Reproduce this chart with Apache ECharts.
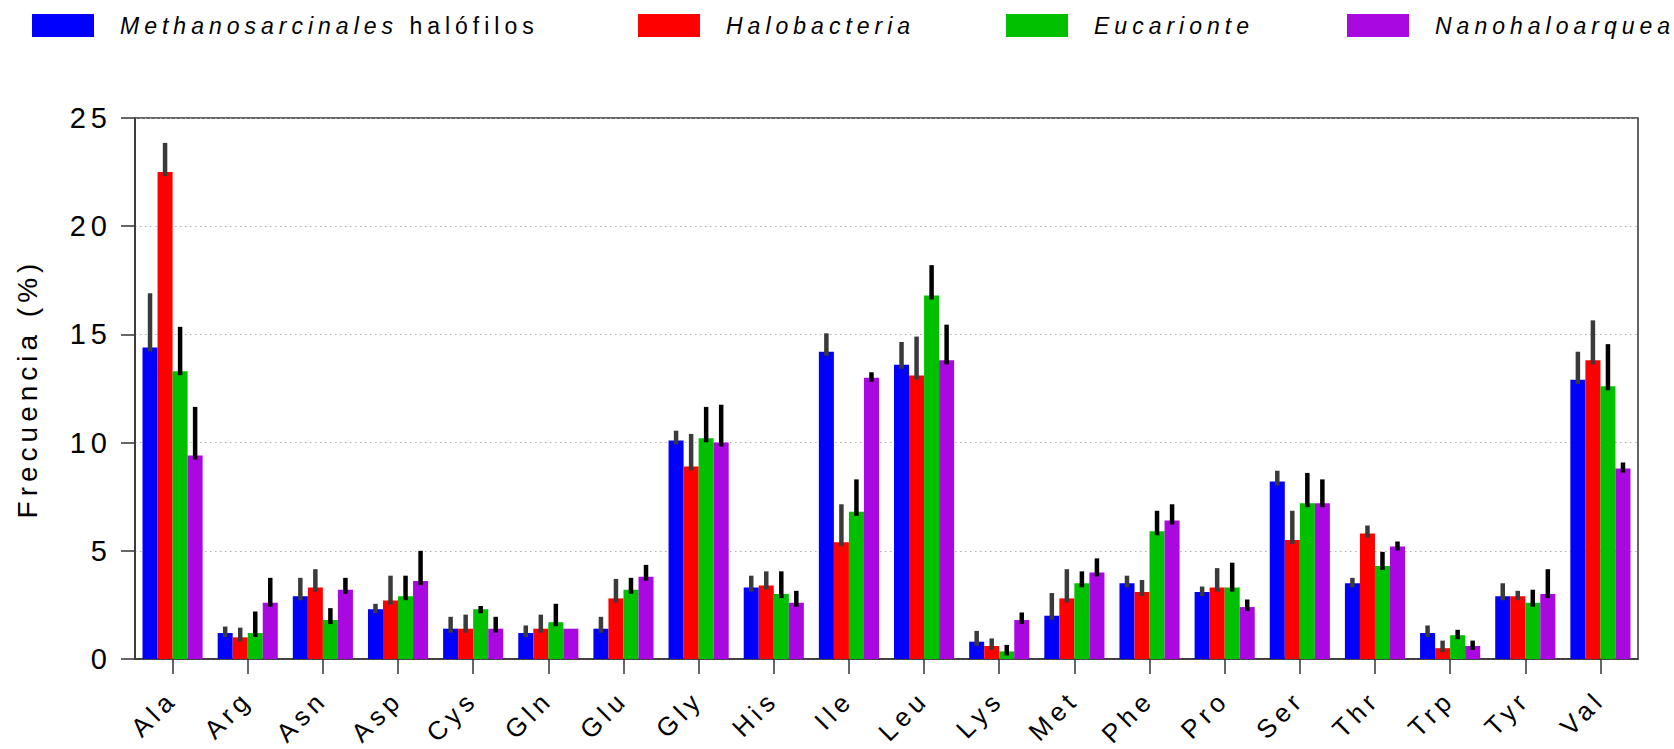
<!DOCTYPE html>
<html><head><meta charset="utf-8">
<script src="https://cdn.jsdelivr.net/npm/echarts@6/dist/echarts.min.js"></script>
<style>
html,body{margin:0;padding:0;background:#fff;}
#chart{width:1674px;height:749px;letter-spacing:5px;}
</style></head><body><div id="chart"></div>
<script>
const categories = ['Ala','Arg','Asn','Asp','Cys','Gln','Glu','Gly','His','Ile','Leu','Lys','Met','Phe','Pro','Ser','Thr','Trp','Tyr','Val'];
const seriesNames = ['Methanosarcinales halófilos','Halobacteria','Eucarionte','Nanohaloarquea'];
const methanoValues = [14.4, 1.2, 2.9, 2.3, 1.4, 1.2, 1.4, 10.1, 3.3, 14.2, 13.6, 0.8, 2.0, 3.5, 3.1, 8.2, 3.5, 1.2, 2.9, 12.9];
const methanoErr    = [2.5, 0.3, 0.85, 0.25, 0.55, 0.35, 0.55, 0.45, 0.55, 0.85, 1.05, 0.5, 1.05, 0.35, 0.25, 0.5, 0.25, 0.35, 0.6, 1.3];
const haloValues    = [22.5, 1.0, 3.3, 2.7, 1.4, 1.4, 2.8, 8.9, 3.4, 5.4, 13.1, 0.6, 2.8, 3.1, 3.3, 5.5, 5.8, 0.5, 2.9, 13.8];
const haloErr       = [1.35, 0.45, 0.85, 1.15, 0.65, 0.65, 0.9, 1.5, 0.65, 1.75, 1.8, 0.35, 1.35, 0.55, 0.9, 1.35, 0.37, 0.35, 0.25, 1.85];
const eucaValues    = [13.3, 1.2, 1.8, 2.9, 2.3, 1.7, 3.2, 10.2, 3.0, 6.8, 16.8, 0.35, 3.5, 5.9, 3.3, 7.2, 4.3, 1.1, 2.6, 12.6];
const eucaErr       = [2.05, 1.0, 0.55, 0.95, 0.15, 0.85, 0.55, 1.45, 1.05, 1.5, 1.4, 0.3, 0.55, 0.95, 1.15, 1.4, 0.65, 0.25, 0.6, 1.95];
const nanoValues    = [9.4, 2.6, 3.2, 3.6, 1.4, 1.4, 3.8, 10.0, 2.6, 13.0, 13.8, 1.8, 4.0, 6.4, 2.4, 7.2, 5.2, 0.6, 3.0, 8.8];
const nanoErr       = [2.25, 1.15, 0.55, 1.4, 0.55, 0, 0.55, 1.75, 0.55, 0.25, 1.65, 0.35, 0.65, 0.75, 0.35, 1.1, 0.23, 0.25, 1.15, 0.28];
const yTicks = [0, 5, 10, 15, 20, 25];

const barColors = ['#0000ff', '#ff0000', '#00c000', '#aa08e0'];
const errColors = ['#3a3a3a', '#3a3a3a', '#000000', '#000000'];
const allValues = [methanoValues, haloValues, eucaValues, nanoValues];
const allErr = [methanoErr, haloErr, eucaErr, nanoErr];
const legendLefts = [32, 638, 1006, 1347];

const chart = echarts.init(document.getElementById('chart'), null, {renderer: 'svg'});

function makeErrRender(k) {
  return function (params, api) {
    const i = api.value(0);
    const v = api.value(1), hi = api.value(2);
    if (!(hi > v)) return null;
    const top = api.coord([i, hi]);
    const base = api.coord([i, v]);
    const band = api.size([1, 0])[0];
    const bw = band * 0.2;
    const x = top[0] + (k - 1.5) * bw;
    return {
      type: 'rect',
      shape: {x: x - 2.25, y: top[1], width: 4.5, height: base[1] - top[1] + 4},
      style: {fill: errColors[k]}
    };
  };
}

const series = [];
allValues.forEach((vals, k) => {
  series.push({
    type: 'bar', name: seriesNames[k], data: vals,
    barGap: '0%', barCategoryGap: '20%',
    itemStyle: {color: barColors[k]},
    z: 2
  });
});
allValues.forEach((vals, k) => {
  series.push({
    type: 'custom', name: seriesNames[k] + ' err',
    renderItem: makeErrRender(k),
    encode: {x: 0, y: [1, 2]},
    data: categories.map((c, i) => [i, vals[i], vals[i] + allErr[k][i]]),
    z: 5, silent: true
  });
});

const legends = seriesNames.map((n, k) => ({
  data: [n], left: legendLefts[k], top: 14, padding: 0,
  itemWidth: 62, itemHeight: 23, icon: 'rect', selectedMode: false,
  formatter: function (name) {
    if (name.indexOf('Methanosarcinales') === 0) return '{m|Methanosarcinales}{n| halófilos}';
    return '{i|' + name + '}';
  },
  textStyle: {
    color: '#000', fontSize: 23, fontFamily: 'Liberation Sans', padding: [0, 0, 0, 21],
    rich: {
      m: {fontStyle: 'italic', fontSize: 23, color: '#000', fontFamily: 'Liberation Sans', width: 278},
      n: {fontStyle: 'normal', fontSize: 23, color: '#000', fontFamily: 'Liberation Sans'},
      i: {fontStyle: 'italic', fontSize: 23, color: '#000', fontFamily: 'Liberation Sans'}
    }
  }
}));

chart.setOption({
  animation: false,
  backgroundColor: '#fff',
  textStyle: {fontFamily: 'Liberation Sans'},
  legend: legends,
  grid: {left: 135, right: 36, top: 118, bottom: 90, show: true, borderColor: '#333', borderWidth: 1.5, backgroundColor: 'transparent'},
  xAxis: {
    type: 'category', data: categories, boundaryGap: true,
    axisLine: {show: true, lineStyle: {color: '#333', width: 1.5}},
    axisTick: {show: true, alignWithLabel: true, length: 15, lineStyle: {color: '#333', width: 1.5}},
    axisLabel: {interval: 0, rotate: 45, fontSize: 26, color: '#000', margin: 36, fontFamily: 'Liberation Sans'},
    splitLine: {show: false}
  },
  yAxis: {
    type: 'value', min: yTicks[0], max: yTicks[yTicks.length - 1], interval: 5,
    name: 'Frecuencia (%)', nameLocation: 'middle', nameGap: 94,
    nameTextStyle: {fontSize: 28, color: '#000', fontFamily: 'Liberation Sans'},
    axisLine: {show: true, lineStyle: {color: '#333', width: 1.5}},
    axisTick: {show: true, length: 14, lineStyle: {color: '#333', width: 1.5}},
    axisLabel: {fontSize: 29, color: '#000', margin: 23, fontFamily: 'Liberation Sans'},
    splitLine: {show: true, lineStyle: {type: [1.5, 3.5], color: '#b0b0b0', width: 1}}
  },
  series: series
});
</script></body></html>
